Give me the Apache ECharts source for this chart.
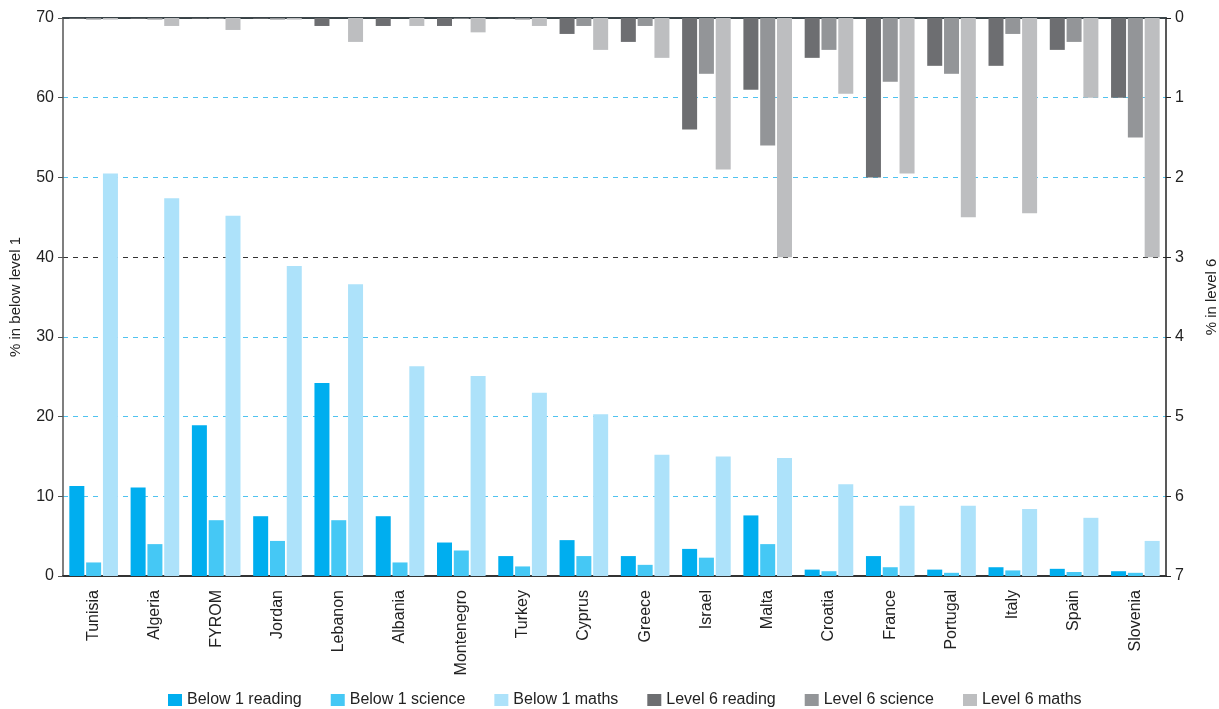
<!DOCTYPE html>
<html>
<head>
<meta charset="utf-8">
<script src="https://cdn.jsdelivr.net/npm/echarts@6/dist/echarts.min.js"></script>
<style>
html,body{margin:0;padding:0;background:#fff;}
#chart{width:1219px;height:709px;}
</style>
</head>
<body>
<div id="chart"></div>
<script>
const categories = ['Tunisia','Algeria','FYROM','Jordan','Lebanon','Albania','Montenegro','Turkey','Cyprus','Greece','Israel','Malta','Croatia','France','Portugal','Italy','Spain','Slovenia'];
const below1Reading = [11.3, 11.1, 18.9, 7.5, 24.2, 7.5, 4.2, 2.5, 4.5, 2.5, 3.4, 7.6, 0.8, 2.5, 0.8, 1.1, 0.9, 0.6];
const below1Science = [1.7, 4.0, 7.0, 4.4, 7.0, 1.7, 3.2, 1.2, 2.5, 1.4, 2.3, 4.0, 0.6, 1.1, 0.4, 0.7, 0.5, 0.4];
const below1Maths   = [50.5, 47.4, 45.2, 38.9, 36.6, 26.3, 25.1, 23.0, 20.3, 15.2, 15.0, 14.8, 11.5, 8.8, 8.8, 8.4, 7.3, 4.4];
const level6Reading = [0.01, 0.01, 0.01, 0.01, 0.1, 0.1, 0.1, 0.01, 0.2, 0.3, 1.4, 0.9, 0.5, 2.0, 0.6, 0.6, 0.4, 1.0];
const level6Science = [0.02, 0.02, 0.01, 0.02, 0.0, 0.0, 0.01, 0.02, 0.1, 0.1, 0.7, 1.6, 0.4, 0.8, 0.7, 0.2, 0.3, 1.5];
const level6Maths   = [0.02, 0.1, 0.15, 0.02, 0.3, 0.1, 0.18, 0.1, 0.4, 0.5, 1.9, 3.0, 0.95, 1.95, 2.5, 2.45, 1.0, 3.0];
const leftTicks = [0, 10, 20, 30, 40, 50, 60, 70];
const rightTicks = [0, 1, 2, 3, 4, 5, 6, 7];

const colors = ['#00aeef', '#45c8f5', '#ade2fa', '#6d6e71', '#939598', '#bdbec0'];
const names = ['Below 1 reading', 'Below 1 science', 'Below 1 maths', 'Level 6 reading', 'Level 6 science', 'Level 6 maths'];
const datasets = [below1Reading, below1Science, below1Maths, level6Reading, level6Science, level6Maths];

const font = 'Liberation Sans, Arial, sans-serif';
const gridColors = ['rgba(0,0,0,0)', '#4fc3f0', '#4fc3f0', '#4fc3f0', '#333333', '#4fc3f0', '#4fc3f0', 'rgba(0,0,0,0)'];

const series = datasets.map((d, i) => ({
  name: names[i],
  type: 'bar',
  xAxisIndex: i < 3 ? 0 : 1,
  yAxisIndex: i < 3 ? 0 : 1,
  data: d,
  barWidth: 15,
  barGap: '12%',
  itemStyle: { color: colors[i] },
  z: 3
}));

const chart = echarts.init(document.getElementById('chart'));
chart.setOption({
  animation: false,
  color: colors,
  grid: { left: 63, right: 53, top: 18, bottom: 133, containLabel: false, outerBoundsMode: 'none' },
  legend: {
    top: 687,
    left: 163,
    itemWidth: 14,
    itemHeight: 12,
    itemGap: 29,
    icon: 'rect',
    textStyle: { fontFamily: font, fontSize: 16, color: '#222' },
    data: names
  },
  xAxis: [
    {
      type: 'category',
      data: categories,
      axisLine: { lineStyle: { color: '#333', width: 2 } },
      axisTick: { show: false },
      axisLabel: { rotate: 90, fontFamily: font, fontSize: 16, color: '#222', margin: 14 }
    },
    {
      type: 'category',
      data: categories,
      position: 'top',
      axisLine: { lineStyle: { color: '#3a4448', width: 2 } },
      axisTick: { show: false },
      axisLabel: { show: false }
    }
  ],
  yAxis: [
    {
      type: 'value',
      min: leftTicks[0],
      max: leftTicks[leftTicks.length - 1],
      interval: 10,
      name: '% in below level 1',
      nameLocation: 'middle',
      nameGap: 40,
      nameRotate: 90,
      nameTextStyle: { fontFamily: font, fontSize: 15, color: '#222' },
      axisLine: { show: true, lineStyle: { color: '#555', width: 1.5 } },
      axisTick: { show: true, length: 5, lineStyle: { color: '#555' } },
      axisLabel: { fontFamily: font, fontSize: 16, color: '#222', margin: 9 },
      splitLine: { show: true, lineStyle: { type: [5, 5], color: gridColors, width: 1 } }
    },
    {
      type: 'value',
      inverse: true,
      min: rightTicks[0],
      max: rightTicks[rightTicks.length - 1],
      interval: 1,
      name: '% in level 6',
      nameLocation: 'middle',
      nameGap: 38,
      nameRotate: 90,
      nameTextStyle: { fontFamily: font, fontSize: 15, color: '#222' },
      axisLine: { show: true, lineStyle: { color: '#222', width: 1.5 } },
      axisTick: { show: true, length: 5, lineStyle: { color: '#222' } },
      axisLabel: { fontFamily: font, fontSize: 16, color: '#222', margin: 9 },
      splitLine: { show: false }
    }
  ],
  series: series
});
</script>
</body>
</html>
